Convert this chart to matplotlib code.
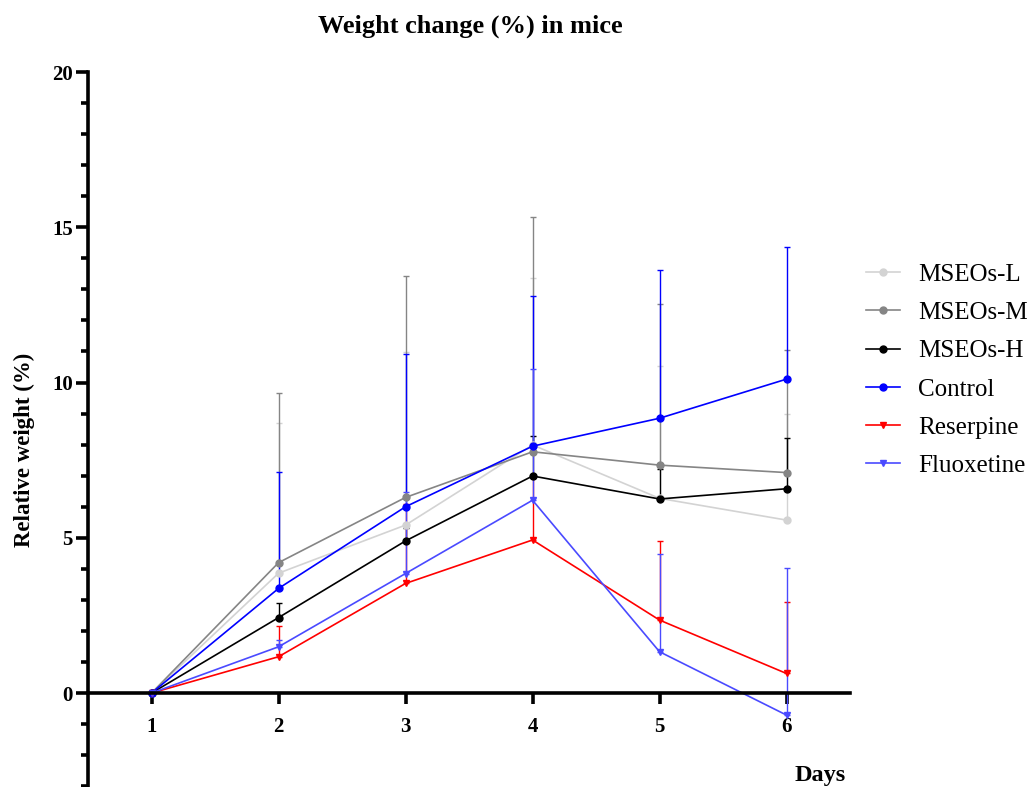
import matplotlib
matplotlib.use('Agg')
import matplotlib.pyplot as plt
from matplotlib.ticker import MultipleLocator
from matplotlib.lines import Line2D

plt.rcParams['font.family'] = ['Liberation Serif', 'DejaVu Serif']

# data (mean and upper SD)
days = [1, 2, 3, 4, 5, 6]
groups = ['MSEOs-L', 'MSEOs-M', 'MSEOs-H', 'Control', 'Reserpine', 'Fluoxetine']
mseos_l = [0, 3.86, 5.41, 7.99, 6.27, 5.57]
mseos_l_sd = [0, 4.83, 5.58, 5.38, 4.26, 3.43]
mseos_m = [0, 4.20, 6.30, 7.77, 7.34, 7.10]
mseos_m_sd = [0, 5.45, 7.14, 7.55, 5.18, 3.95]
mseos_h = [0, 2.43, 4.90, 6.99, 6.25, 6.58]
mseos_h_sd = [0, 0.47, 0.40, 1.29, 0.95, 1.64]
control = [0, 3.37, 6.00, 7.95, 8.85, 10.11]
control_sd = [0, 3.76, 4.92, 4.84, 4.77, 4.26]
reserpine = [0, 1.17, 3.53, 4.93, 2.35, 0.63]
reserpine_sd = [0, 0.99, 2.57, 2.07, 2.55, 2.29]
fluoxetine = [0, 1.49, 3.85, 6.21, 1.33, -0.71]
fluoxetine_sd = [0, 0.21, 2.63, 4.21, 3.15, 4.75]

means = [mseos_l, mseos_m, mseos_h, control, reserpine, fluoxetine]
sds = [mseos_l_sd, mseos_m_sd, mseos_h_sd, control_sd, reserpine_sd, fluoxetine_sd]
colors = ['#d3d3d3', '#858585', '#000000', '#0000ff', '#ff0000', '#4a4aff']
markers = ['o', 'o', 'o', 'o', 'v', 'v']

fig = plt.figure(figsize=(10.36, 7.87), dpi=100)
ax = fig.add_axes([0.085, 0.001, 0.7355, 0.9075])

handles = []
for name, m, sd, c, mk in zip(groups, means, sds, colors, markers):
    ax.errorbar(days, m, yerr=[[0] * len(sd), sd], color=c, marker=mk,
                markersize=5, linewidth=1.2, elinewidth=1.0, capsize=2.5,
                capthick=1.0)
    handles.append(Line2D([], [], color=c, marker=mk, markersize=5,
                          linewidth=1.2, label=name))

ax.set_xlim(0.5, 6.5)
ax.set_ylim(-3, 20)
ax.set_xticks(days)
ax.yaxis.set_major_locator(MultipleLocator(5))
ax.yaxis.set_minor_locator(MultipleLocator(1))

ax.spines['top'].set_visible(False)
ax.spines['right'].set_visible(False)
ax.spines['bottom'].set_position(('data', 0))
ax.spines['left'].set_linewidth(2.6)
ax.spines['bottom'].set_linewidth(2.6)

ax.tick_params(axis='x', direction='out', length=8, width=2.6, labelsize=15, pad=9)
ax.tick_params(axis='y', which='major', direction='out', length=9, width=2.6, labelsize=15, pad=2)
ax.tick_params(axis='y', which='minor', direction='out', length=5, width=2.6)
for lab in ax.get_xticklabels() + ax.get_yticklabels():
    lab.set_fontweight('bold')

fig.text(0.4537, 0.966, 'Weight change (%) in mice', ha='center', va='center',
         fontsize=19, fontweight='bold')
fig.text(0.024, 0.428, 'Relative weight (%)', ha='center', va='center',
         rotation=90, fontsize=16.5, fontweight='bold')
fig.text(0.7915, 0.015, 'Days', ha='center', va='center',
         fontsize=17.5, fontweight='bold')

ax.legend(handles=handles, loc='upper left', bbox_to_anchor=(0.836, 0.6655),
          bbox_transform=fig.transFigure, frameon=False, fontsize=18,
          handlelength=1.36, handletextpad=0.72, labelspacing=0.63,
          borderaxespad=0, borderpad=0)

fig.savefig('out.png', dpi=100)
